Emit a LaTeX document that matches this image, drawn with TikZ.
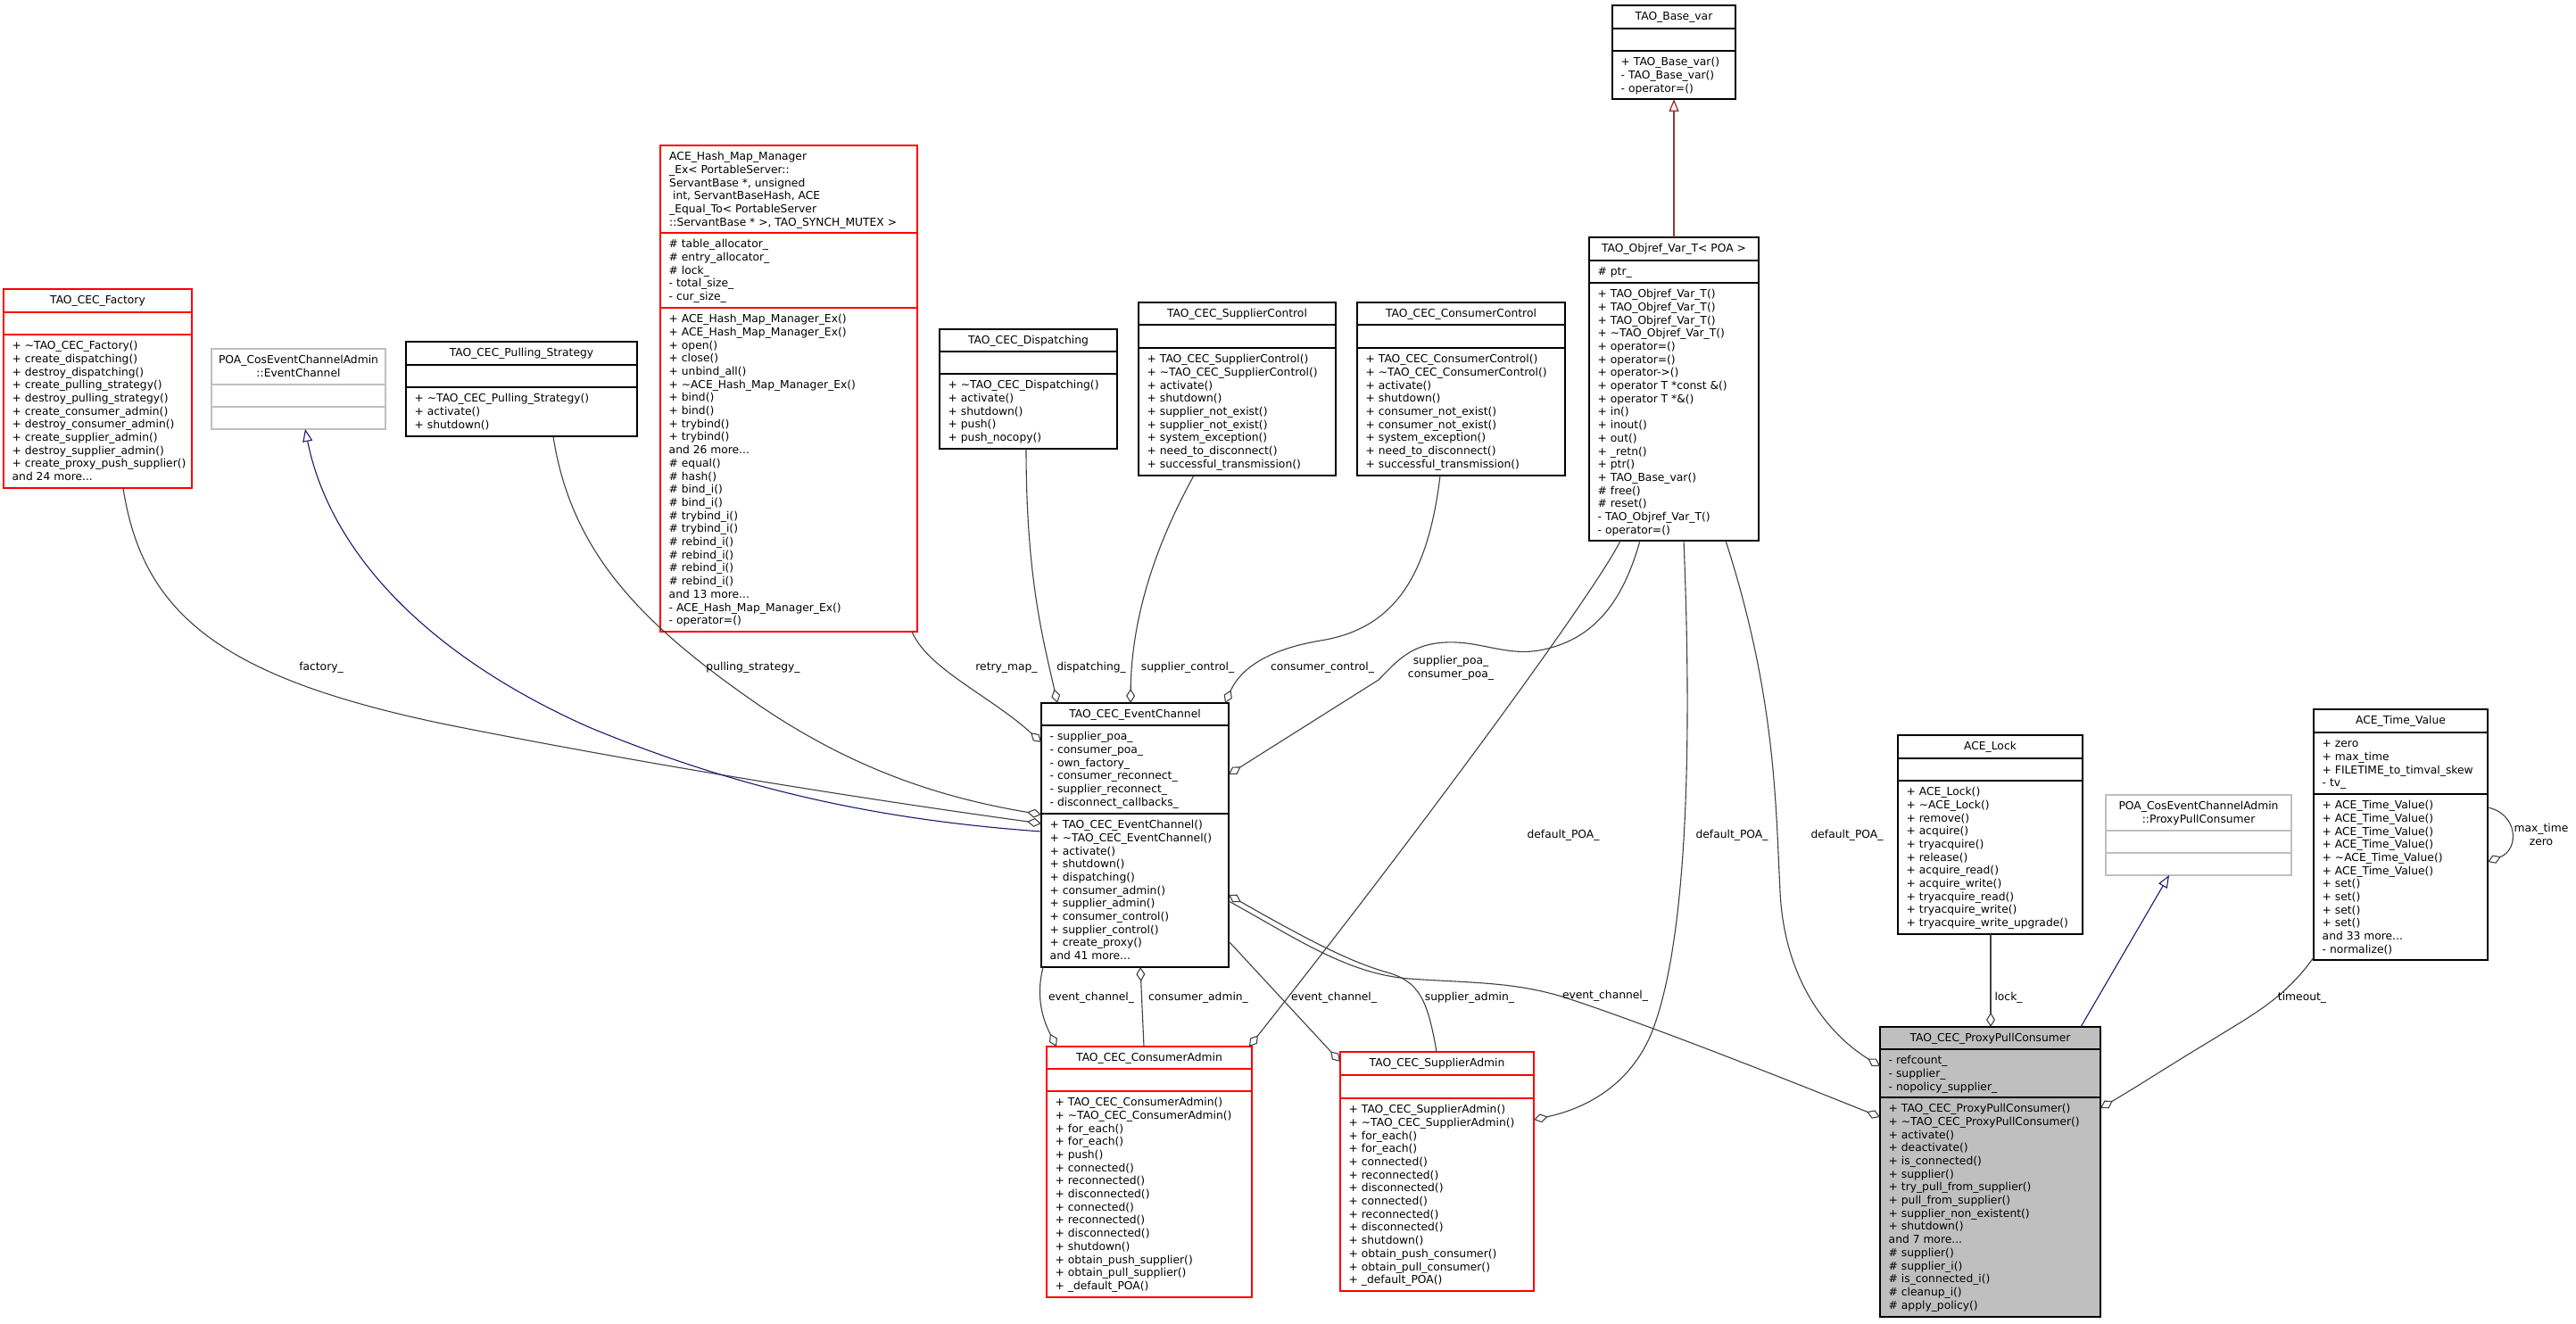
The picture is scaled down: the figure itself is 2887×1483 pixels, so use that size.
\documentclass[tikz,border=0pt]{standalone}
\usepackage{fontspec}
\setmainfont{DejaVu Sans}
\usetikzlibrary{arrows.meta,calc}
\definecolor{cedge}{HTML}{404040}
\definecolor{cred}{HTML}{FF0000}
\definecolor{cgray}{HTML}{BFBFBF}
\definecolor{cnavy}{HTML}{191970}
\definecolor{cfire}{HTML}{9A3333}
\newcommand\clsfont{\fontsize{12.3pt}{14.7pt}\selectfont}
\newcommand\stt{\rule{0pt}{9.4pt}}
\newcommand\tild{\textasciitilde}
\tikzset{
  cls/.style={line width=1.2pt, inner sep=0pt, outer sep=0pt, anchor=north west, fill=white},
  sepline/.style={line width=1.2pt},
  redb/.style={draw=cred},
  grayb/.style={draw=cgray},
  blackb/.style={draw=black},
  selb/.style={draw=black, fill=cgray},
  ttl/.style={anchor=north, inner sep=0pt, align=center, font=\clsfont},
  ttll/.style={anchor=north west, inner sep=0pt, align=left, font=\clsfont},
  txt/.style={anchor=north west, inner sep=0pt, align=left, font=\clsfont},
  lbl/.style={anchor=north, inner sep=0pt, align=center, font=\clsfont},
  agg/.style={draw=cedge, line width=1.1pt, -{Diamond[open, length=16pt, width=10pt, line width=1.1pt]}},
  inhn/.style={draw=cnavy, line width=1.1pt, -{Triangle[open, length=14pt, width=11pt, line width=1.1pt]}},
  inhf/.style={draw=cfire, line width=1.3pt, -{Triangle[open, length=14pt, width=11pt, line width=1.3pt]}},
}
% name, x, y, width, h1, h1+h2, total height, colour style
\newcommand\classbox[8]{%
  \node[cls,#8,minimum width=#4pt,minimum height=#7pt] (#1) at (#2,#3) {};
  \draw[sepline,#8] ($(#1.north west)+(0,#5)$) -- ($(#1.north east)+(0,#5)$);
  \draw[sepline,#8] ($(#1.north west)+(0,#6)$) -- ($(#1.north east)+(0,#6)$);
}
\begin{document}
\begin{tikzpicture}[x=1pt,y=-1pt]
\fill[white] (0,0) rectangle (2887,1483);
\useasboundingbox (0,0) rectangle (2887,1483);

% ---------------- class boxes ----------------
\classbox{fac}{4}{324}{211}{26}{51}{223}{redb}
\node[ttl] (fac-t) at ($(fac.north)+(0,7)$) {\stt TAO\_CEC\_Factory};
\node[txt] (fac-m) at ($(fac.north west)+(9.5,58)$) {\stt + \tild TAO\_CEC\_Factory()\\+ create\_dispatching()\\+ destroy\_dispatching()\\+ create\_pulling\_strategy()\\+ destroy\_pulling\_strategy()\\+ create\_consumer\_admin()\\+ destroy\_consumer\_admin()\\+ create\_supplier\_admin()\\+ destroy\_supplier\_admin()\\+ create\_proxy\_push\_supplier()\\and 24 more...};

\classbox{poaec}{237}{391}{195}{40}{65}{90}{grayb}
\node[ttl] (poaec-t) at ($(poaec.north)+(0,7)$) {\stt POA\_CosEventChannelAdmin\\::EventChannel};

\classbox{pull}{455}{383}{259}{26}{51}{106}{blackb}
\node[ttl] (pull-t) at ($(pull.north)+(0,7)$) {\stt TAO\_CEC\_Pulling\_Strategy};
\node[txt] (pull-m) at ($(pull.north west)+(9.5,58)$) {\stt + \tild TAO\_CEC\_Pulling\_Strategy()\\+ activate()\\+ shutdown()};

\classbox{hash}{740}{163}{288}{98}{182}{545}{redb}
\node[ttll] (hash-t) at ($(hash.north west)+(10,7)$) {\stt ACE\_Hash\_Map\_Manager\\\_Ex< PortableServer::\\ServantBase *, unsigned\\\hspace*{3.9pt}int, ServantBaseHash, ACE\\\_Equal\_To< PortableServer\\::ServantBase * >, TAO\_SYNCH\_MUTEX >};
\node[txt] (hash-a) at ($(hash.north west)+(9.5,105)$) {\stt \# table\_allocator\_\\\# entry\_allocator\_\\\# lock\_\\- total\_size\_\\- cur\_size\_};
\node[txt] (hash-m) at ($(hash.north west)+(9.5,189)$) {\stt + ACE\_Hash\_Map\_Manager\_Ex()\\+ ACE\_Hash\_Map\_Manager\_Ex()\\+ open()\\+ close()\\+ unbind\_all()\\+ \tild ACE\_Hash\_Map\_Manager\_Ex()\\+ bind()\\+ bind()\\+ trybind()\\+ trybind()\\and 26 more...\\\# equal()\\\# hash()\\\# bind\_i()\\\# bind\_i()\\\# trybind\_i()\\\# trybind\_i()\\\# rebind\_i()\\\# rebind\_i()\\\# rebind\_i()\\\# rebind\_i()\\and 13 more...\\- ACE\_Hash\_Map\_Manager\_Ex()\\- operator=()};

\classbox{disp}{1053}{369}{199}{25}{50}{134}{blackb}
\node[ttl] (disp-t) at ($(disp.north)+(0,7)$) {\stt TAO\_CEC\_Dispatching};
\node[txt] (disp-m) at ($(disp.north west)+(9.5,57)$) {\stt + \tild TAO\_CEC\_Dispatching()\\+ activate()\\+ shutdown()\\+ push()\\+ push\_nocopy()};

\classbox{supc}{1276}{339}{221}{25}{51}{194}{blackb}
\node[ttl] (supc-t) at ($(supc.north)+(0,7)$) {\stt TAO\_CEC\_SupplierControl};
\node[txt] (supc-m) at ($(supc.north west)+(9.5,58)$) {\stt + TAO\_CEC\_SupplierControl()\\+ \tild TAO\_CEC\_SupplierControl()\\+ activate()\\+ shutdown()\\+ supplier\_not\_exist()\\+ supplier\_not\_exist()\\+ system\_exception()\\+ need\_to\_disconnect()\\+ successful\_transmission()};

\classbox{conc}{1521}{339}{233}{25}{51}{194}{blackb}
\node[ttl] (conc-t) at ($(conc.north)+(0,7)$) {\stt TAO\_CEC\_ConsumerControl};
\node[txt] (conc-m) at ($(conc.north west)+(9.5,58)$) {\stt + TAO\_CEC\_ConsumerControl()\\+ \tild TAO\_CEC\_ConsumerControl()\\+ activate()\\+ shutdown()\\+ consumer\_not\_exist()\\+ consumer\_not\_exist()\\+ system\_exception()\\+ need\_to\_disconnect()\\+ successful\_transmission()};

\classbox{base}{1807}{6}{138}{26}{51}{105}{blackb}
\node[ttl] (base-t) at ($(base.north)+(0,7)$) {\stt TAO\_Base\_var};
\node[txt] (base-m) at ($(base.north west)+(9.5,58)$) {\stt + TAO\_Base\_var()\\- TAO\_Base\_var()\\- operator=()};

\classbox{objref}{1781}{266}{190}{26}{51}{340}{blackb}
\node[ttl] (objref-t) at ($(objref.north)+(0,7)$) {\stt TAO\_Objref\_Var\_T< POA >};
\node[txt] (objref-a) at ($(objref.north west)+(9.5,33)$) {\stt \# ptr\_};
\node[txt] (objref-m) at ($(objref.north west)+(9.5,58)$) {\stt + TAO\_Objref\_Var\_T()\\+ TAO\_Objref\_Var\_T()\\+ TAO\_Objref\_Var\_T()\\+ \tild TAO\_Objref\_Var\_T()\\+ operator=()\\+ operator=()\\+ operator->()\\+ operator T *const \&()\\+ operator T *\&()\\+ in()\\+ inout()\\+ out()\\+ \_retn()\\+ ptr()\\+ TAO\_Base\_var()\\\# free()\\\# reset()\\- TAO\_Objref\_Var\_T()\\- operator=()};

\classbox{ec}{1167}{788}{210}{25}{124}{296}{blackb}
\node[ttl] (ec-t) at ($(ec.north)+(0,7)$) {\stt TAO\_CEC\_EventChannel};
\node[txt] (ec-a) at ($(ec.north west)+(9.5,32)$) {\stt - supplier\_poa\_\\- consumer\_poa\_\\- own\_factory\_\\- consumer\_reconnect\_\\- supplier\_reconnect\_\\- disconnect\_callbacks\_};
\node[txt] (ec-m) at ($(ec.north west)+(9.5,131)$) {\stt + TAO\_CEC\_EventChannel()\\+ \tild TAO\_CEC\_EventChannel()\\+ activate()\\+ shutdown()\\+ dispatching()\\+ consumer\_admin()\\+ supplier\_admin()\\+ consumer\_control()\\+ supplier\_control()\\+ create\_proxy()\\and 41 more...};

\classbox{cadm}{1173}{1173}{230}{25}{50}{281}{redb}
\node[ttl] (cadm-t) at ($(cadm.north)+(0,7)$) {\stt TAO\_CEC\_ConsumerAdmin};
\node[txt] (cadm-m) at ($(cadm.north west)+(9.5,57)$) {\stt + TAO\_CEC\_ConsumerAdmin()\\+ \tild TAO\_CEC\_ConsumerAdmin()\\+ for\_each()\\+ for\_each()\\+ push()\\+ connected()\\+ reconnected()\\+ disconnected()\\+ connected()\\+ reconnected()\\+ disconnected()\\+ shutdown()\\+ obtain\_push\_supplier()\\+ obtain\_pull\_supplier()\\+ \_default\_POA()};

\classbox{sadm}{1502}{1179}{217}{26}{52}{268}{redb}
\node[ttl] (sadm-t) at ($(sadm.north)+(0,7)$) {\stt TAO\_CEC\_SupplierAdmin};
\node[txt] (sadm-m) at ($(sadm.north west)+(9.5,59)$) {\stt + TAO\_CEC\_SupplierAdmin()\\+ \tild TAO\_CEC\_SupplierAdmin()\\+ for\_each()\\+ for\_each()\\+ connected()\\+ reconnected()\\+ disconnected()\\+ connected()\\+ reconnected()\\+ disconnected()\\+ shutdown()\\+ obtain\_push\_consumer()\\+ obtain\_pull\_consumer()\\+ \_default\_POA()};

\classbox{ppc}{2107}{1151}{247}{25}{79}{325}{selb}
\node[ttl] (ppc-t) at ($(ppc.north)+(0,7)$) {\stt TAO\_CEC\_ProxyPullConsumer};
\node[txt] (ppc-a) at ($(ppc.north west)+(9.5,32)$) {\stt - refcount\_\\- supplier\_\\- nopolicy\_supplier\_};
\node[txt] (ppc-m) at ($(ppc.north west)+(9.5,86)$) {\stt + TAO\_CEC\_ProxyPullConsumer()\\+ \tild TAO\_CEC\_ProxyPullConsumer()\\+ activate()\\+ deactivate()\\+ is\_connected()\\+ supplier()\\+ try\_pull\_from\_supplier()\\+ pull\_from\_supplier()\\+ supplier\_non\_existent()\\+ shutdown()\\and 7 more...\\\# supplier()\\\# supplier\_i()\\\# is\_connected\_i()\\\# cleanup\_i()\\\# apply\_policy()};

\classbox{lock}{2127}{824}{207}{26}{51}{223}{blackb}
\node[ttl] (lock-t) at ($(lock.north)+(0,7)$) {\stt ACE\_Lock};
\node[txt] (lock-m) at ($(lock.north west)+(9.5,58)$) {\stt + ACE\_Lock()\\+ \tild ACE\_Lock()\\+ remove()\\+ acquire()\\+ tryacquire()\\+ release()\\+ acquire\_read()\\+ acquire\_write()\\+ tryacquire\_read()\\+ tryacquire\_write()\\+ tryacquire\_write\_upgrade()};

\classbox{poappc}{2360}{891}{208}{40}{65}{90}{grayb}
\node[ttl] (poappc-t) at ($(poappc.north)+(0,7)$) {\stt POA\_CosEventChannelAdmin\\::ProxyPullConsumer};

\classbox{tv}{2593}{795}{195}{26}{95}{281}{blackb}
\node[ttl] (tv-t) at ($(tv.north)+(0,7)$) {\stt ACE\_Time\_Value};
\node[txt] (tv-a) at ($(tv.north west)+(9.5,33)$) {\stt + zero\\+ max\_time\\+ FILETIME\_to\_timval\_skew\\- tv\_};
\node[txt] (tv-m) at ($(tv.north west)+(9.5,102)$) {\stt + ACE\_Time\_Value()\\+ ACE\_Time\_Value()\\+ ACE\_Time\_Value()\\+ ACE\_Time\_Value()\\+ \tild ACE\_Time\_Value()\\+ ACE\_Time\_Value()\\+ set()\\+ set()\\+ set()\\+ set()\\and 33 more...\\- normalize()};

% ---------------- connectors ----------------
\draw[agg] ($(fac.south west)+(134,0)$) .. controls (160,690) and (250,760) .. (500,812) .. controls (750,862) and (1000,900) .. ($(ec.north west)+(0,135)$);
\draw[agg] ($(pull.south west)+(165,0)$) .. controls (640,620) and (720,700) .. (850,790) .. controls (960,865) and (1060,895) .. ($(ec.north west)+(0,125)$);
\draw[inhn] ($(ec.north west)+(0,144)$) .. controls (1000,920) and (840,890) .. (660,815) .. controls (480,735) and (370,620) .. ($(poaec.south west)+(105,0)$);
\draw[agg] ($(hash.south west)+(282,0)$) .. controls (1040,750) and (1110,780) .. ($(ec.north west)+(0,44)$);
\draw[agg] ($(disp.south west)+(97,0)$) .. controls (1150,650) and (1170,720) .. ($(ec.north west)+(18,0)$);
\draw[agg] ($(supc.south west)+(62,0)$) .. controls (1290,620) and (1268,700) .. ($(ec.north west)+(100,0)$);
\draw[agg] ($(conc.south west)+(93,0)$) .. controls (1600,650) and (1560,705) .. (1480,718) .. controls (1420,728) and (1390,750) .. ($(ec.north west)+(206,0)$);
\draw[agg] ($(objref.south west)+(57,0)$) .. controls (1820,670) and (1790,715) .. (1730,728) .. controls (1690,737) and (1660,718) .. (1620,720) .. controls (1580,722) and (1565,742) .. (1545,762) -- ($(ec.north east)+(0,80)$);
\draw[agg] ($(objref.south west)+(35,0)$) .. controls (1790,660) and (1600,920) .. ($(cadm.north west)+(227,0)$);
\draw[agg] ($(objref.south west)+(106,0)$) .. controls (1895,800) and (1895,1050) .. (1850,1160) .. controls (1822,1225) and (1765,1245) .. ($(sadm.north east)+(0,76)$);
\draw[agg] ($(objref.south west)+(153,0)$) .. controls (1990,780) and (1990,900) .. (1995,1000) .. controls (2000,1100) and (2050,1160) .. ($(ppc.north west)+(0,44)$);
\draw[agg] ($(ec.south west)+(2,0)$) .. controls (1160,1120) and (1170,1145) .. ($(cadm.north west)+(11,0)$);
\draw[agg] ($(cadm.north west)+(109,0)$) -- ($(ec.south west)+(111,0)$);
\draw[agg] ($(ec.north east)+(0,267)$) -- ($(sadm.north west)+(0,11)$);
\draw[agg] ($(sadm.north west)+(108,0)$) .. controls (1600,1120) and (1590,1100) .. (1555,1090) .. controls (1520,1080) and (1480,1062) .. ($(ec.north east)+(0,215)$);
\draw[agg] ($(ec.north east)+(0,222)$) .. controls (1450,1050) and (1510,1092) .. (1580,1097) .. controls (1650,1102) and (1700,1100) .. (1760,1120) .. controls (1850,1150) and (1990,1205) .. ($(ppc.north west)+(0,101)$);
\draw[agg] ($(lock.south west)+(104,0)$) -- ($(ppc.north west)+(124,0)$);
\draw[inhn] ($(ppc.north west)+(225,0)$) -- ($(poappc.south west)+(71,0)$);
\draw[agg] ($(tv.south west)+(0,-3)$) .. controls (2560,1120) and (2520,1140) .. (2480,1165) .. controls (2430,1195) and (2400,1215) .. ($(ppc.north east)+(0,91)$);
\draw[agg] ($(tv.north east)+(0,110)$) .. controls (2822,912) and (2824,952) .. ($(tv.north east)+(0,171)$);
\draw[inhf] ($(objref.north west)+(95,0)$) -- ($(base.south west)+(69,0)$);

% ---------------- labels ----------------
\node[lbl] (l1) at (360,742) {\stt factory\_};
\node[lbl] (l2) at (844,742) {\stt pulling\_strategy\_};
\node[lbl] (l3) at (1128,742) {\stt retry\_map\_};
\node[lbl] (l4) at (1223,742) {\stt dispatching\_};
\node[lbl] (l5) at (1331,742) {\stt supplier\_control\_};
\node[lbl] (l6) at (1482,742) {\stt consumer\_control\_};
\node[lbl] (l7) at (1626,735) {\stt supplier\_poa\_\\consumer\_poa\_};
\node[lbl] (l8) at (1752,930) {\stt default\_POA\_};
\node[lbl] (l9) at (1941,930) {\stt default\_POA\_};
\node[lbl] (l10) at (2070,930) {\stt default\_POA\_};
\node[lbl] (l11) at (1223,1112) {\stt event\_channel\_};
\node[lbl] (l12) at (1343,1112) {\stt consumer\_admin\_};
\node[lbl] (l13) at (1495,1112) {\stt event\_channel\_};
\node[lbl] (l14) at (1647,1112) {\stt supplier\_admin\_};
\node[lbl] (l15) at (1799,1110) {\stt event\_channel\_};
\node[lbl] (l16) at (2251,1112) {\stt lock\_};
\node[lbl] (l17) at (2580,1112) {\stt timeout\_};
\node[lbl] (l18) at (2848,923) {\stt max\_time\\zero};
\end{tikzpicture}
\end{document}
